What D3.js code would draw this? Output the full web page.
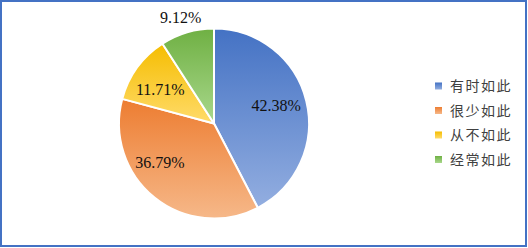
<!DOCTYPE html>
<html>
<head>
<meta charset="utf-8">
<script src="https://d3js.org/d3.v7.min.js"></script>
<style>
  body { margin: 0; background: #fff; }
  .lbl { font-family: "Liberation Serif", "DejaVu Serif", serif; }
</style>
</head>
<body>
<script>
// data
var categories = ["有时如此", "很少如此", "从不如此", "经常如此"];
var values = [42.38, 36.79, 11.71, 9.12];
var labels = ["42.38%", "36.79%", "11.71%", "9.12%"];

// gradient colours: top -> bottom
var topColors = ["#4472c4", "#ed7d31", "#f5bd00", "#6fb043"];
var bottomColors = ["#93aee0", "#f6b889", "#ffdb6a", "#a9d88c"];

var W = 528, H = 248;
var cx = 214, cy = 123.5, R = 95;

var svg = d3.select("body").append("svg")
  .attr("width", W)
  .attr("height", H);

// outer frame
svg.append("rect")
  .attr("x", 1).attr("y", 1)
  .attr("width", W - 3).attr("height", H - 3)
  .attr("fill", "#fff")
  .attr("stroke", "#4472c4")
  .attr("stroke-width", 2);

var defs = svg.append("defs");
categories.forEach(function (c, i) {
  var g = defs.append("linearGradient")
    .attr("id", "grad" + i)
    .attr("x1", 0).attr("y1", 0)
    .attr("x2", 0).attr("y2", 1);
  g.append("stop").attr("offset", "0%").attr("stop-color", topColors[i]);
  g.append("stop").attr("offset", "100%").attr("stop-color", bottomColors[i]);
});

var pie = d3.pie().sort(null).value(function (d) { return d; });
var arcs = pie(values);

var arc = d3.arc().innerRadius(0).outerRadius(R);

var g = svg.append("g")
  .attr("transform", "translate(" + cx + "," + cy + ")");

g.selectAll("path.slice")
  .data(arcs)
  .enter().append("path")
  .attr("class", "slice")
  .attr("d", arc)
  .attr("fill", function (d, i) { return "url(#grad" + i + ")"; })
  .attr("stroke", "#fff")
  .attr("stroke-width", 2)
  .attr("stroke-linejoin", "round");

// label placement: inside for big slices, outside for the small one
var inner = d3.arc().innerRadius(64).outerRadius(64);
var outer = d3.arc().innerRadius(111).outerRadius(111);
var nudge = [[0, -3], [-14, -11], [-2, 4], [-2, 0]];

g.selectAll("text.lbl")
  .data(arcs)
  .enter().append("text")
  .attr("class", "lbl")
  .attr("transform", function (d, i) {
    var p = (i === 3 ? outer : inner).centroid(d);
    return "translate(" + (p[0] + nudge[i][0]) + "," + (p[1] + nudge[i][1]) + ")";
  })
  .attr("text-anchor", "middle")
  .attr("dy", "0.35em")
  .attr("font-size", 16)
  .attr("fill", "#111")
  .text(function (d, i) { return labels[i]; });

// legend
var ly = d3.scalePoint().domain(categories).range([86, 159.5]);

var leg = svg.selectAll("g.leg")
  .data(categories)
  .enter().append("g")
  .attr("class", "leg")
  .attr("transform", function (d) { return "translate(435," + ly(d) + ")"; });

leg.append("rect")
  .attr("x", 0).attr("y", -3.5)
  .attr("width", 7).attr("height", 7)
  .attr("fill", function (d, i) { return "url(#grad" + i + ")"; });

leg.append("text")
  .attr("x", 15)
  .attr("dy", "0.36em")
  .attr("font-family", "'Noto Sans CJK SC', sans-serif")
  .attr("font-size", 14)
  .attr("letter-spacing", 1.5)
  .attr("fill", "#404040")
  .text(function (d) { return d; });
</script>
</body>
</html>
